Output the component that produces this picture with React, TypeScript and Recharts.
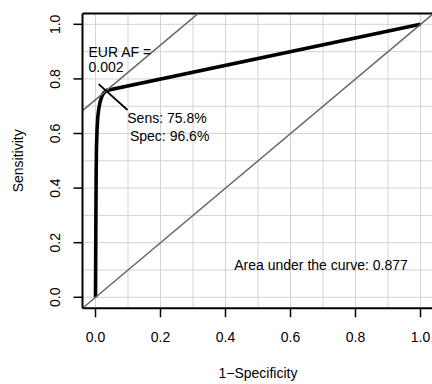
import React from 'react';
import { LineChart, Line, XAxis, YAxis, ReferenceLine, ReferenceDot } from 'recharts';

// ROC curve (1 - specificity vs sensitivity)
const fpr = [0, 0.001, 0.002, 0.003, 0.005, 0.007, 0.010, 0.014, 0.019, 0.025, 0.034, 1.0];
const tpr = [0, 0.25, 0.45, 0.55, 0.62, 0.66, 0.69, 0.715, 0.735, 0.748, 0.758, 1.0];

const axisTicks = [0, 0.2, 0.4, 0.6, 0.8, 1.0];
const gridValues = [0, 0.1, 0.2, 0.3, 0.4, 0.5, 0.6, 0.7, 0.8, 0.9, 1.0];
const domainLimits: [number, number] = [-0.04, 1.04];

const cutoffSens = 0.758;
const cutoffSpec = 0.966;
const cutoffLabelLines = ['EUR AF =', '0.002'];
const aucValue = 0.877;

const FONT = "'Liberation Sans', Arial, Helvetica, sans-serif";
const GRID = '#d3d3d3';

const rocData = fpr.map((x, i) => ({ x, y: tpr[i] }));
const diagData = [
  { x: domainLimits[0], y: domainLimits[0] },
  { x: domainLimits[1], y: domainLimits[1] },
];
const youdenOffset = cutoffSens - (1 - cutoffSpec);
const youdenData = [
  { x: domainLimits[0], y: domainLimits[0] + youdenOffset },
  { x: domainLimits[1] - youdenOffset, y: domainLimits[1] },
];

const makeText = (text: string) => (props: any) => (
  <text
    x={props.cx}
    y={props.cy}
    textAnchor="start"
    fontFamily={FONT}
    fontSize={14}
    fill="#000"
  >
    {text}
  </text>
);

const YTick = (props: any) => {
  const { x, y, payload } = props;
  const cx = x;
  return (
    <text
      x={cx}
      y={y}
      transform={`rotate(-90, ${cx}, ${y})`}
      textAnchor="middle"
      dy="0.36em"
      fontFamily={FONT}
      fontSize={14}
      fill="#000"
    >
      {Number(payload.value).toFixed(1)}
    </text>
  );
};

const YTitle = (props: any) => {
  const vb = props.viewBox || {};
  const cx = 17.5;
  const cy = vb.y != null && vb.height != null ? vb.y + vb.height / 2 : 160.8;
  return (
    <text
      x={cx}
      y={cy}
      transform={`rotate(-90, ${cx}, ${cy})`}
      textAnchor="middle"
      dy="0.36em"
      fontFamily={FONT}
      fontSize={14}
      fill="#000"
    >
      Sensitivity
    </text>
  );
};

export default function App() {
  const v = gridValues;
  return (
    <div style={{ position: 'absolute', left: 0, top: 0, width: 432, height: 384, overflow: 'hidden', background: '#fff' }}>
      <LineChart
        width={434}
        height={384}
        margin={{ top: 13.4, right: 0.5, bottom: 0, left: 0 }}
      >
        <XAxis
          type="number"
          dataKey="x"
          domain={domainLimits}
          ticks={axisTicks}
          allowDataOverflow
          height={75.8}
          tickSize={9}
          tickMargin={14.6}
          tickFormatter={(t: number) => t.toFixed(1)}
          axisLine={{ stroke: '#000', strokeWidth: 2 }}
          tickLine={{ stroke: '#000', strokeWidth: 1.5 }}
          tick={{ fill: '#000', fontSize: 14, fontFamily: FONT }}
          label={{ value: '1\u2212Specificity', position: 'insideBottom', offset: 5.7, fill: '#000', fontSize: 14, fontFamily: FONT }}
        />
        <YAxis
          type="number"
          dataKey="y"
          domain={domainLimits}
          ticks={axisTicks}
          allowDataOverflow
          width={82.5}
          tickSize={9}
          tickMargin={18.5}
          axisLine={{ stroke: '#000', strokeWidth: 2 }}
          tickLine={{ stroke: '#000', strokeWidth: 1.5 }}
          tick={<YTick />}
          label={<YTitle />}
        />
        <ReferenceLine x={v[0]} stroke={GRID} strokeWidth={1} />
        <ReferenceLine x={v[1]} stroke={GRID} strokeWidth={1} />
        <ReferenceLine x={v[2]} stroke={GRID} strokeWidth={1} />
        <ReferenceLine x={v[3]} stroke={GRID} strokeWidth={1} />
        <ReferenceLine x={v[4]} stroke={GRID} strokeWidth={1} />
        <ReferenceLine x={v[5]} stroke={GRID} strokeWidth={1} />
        <ReferenceLine x={v[6]} stroke={GRID} strokeWidth={1} />
        <ReferenceLine x={v[7]} stroke={GRID} strokeWidth={1} />
        <ReferenceLine x={v[8]} stroke={GRID} strokeWidth={1} />
        <ReferenceLine x={v[9]} stroke={GRID} strokeWidth={1} />
        <ReferenceLine x={v[10]} stroke={GRID} strokeWidth={1} />
        <ReferenceLine y={v[0]} stroke={GRID} strokeWidth={1} />
        <ReferenceLine y={v[1]} stroke={GRID} strokeWidth={1} />
        <ReferenceLine y={v[2]} stroke={GRID} strokeWidth={1} />
        <ReferenceLine y={v[3]} stroke={GRID} strokeWidth={1} />
        <ReferenceLine y={v[4]} stroke={GRID} strokeWidth={1} />
        <ReferenceLine y={v[5]} stroke={GRID} strokeWidth={1} />
        <ReferenceLine y={v[6]} stroke={GRID} strokeWidth={1} />
        <ReferenceLine y={v[7]} stroke={GRID} strokeWidth={1} />
        <ReferenceLine y={v[8]} stroke={GRID} strokeWidth={1} />
        <ReferenceLine y={v[9]} stroke={GRID} strokeWidth={1} />
        <ReferenceLine y={v[10]} stroke={GRID} strokeWidth={1} />
        <ReferenceLine y={domainLimits[1]} stroke="#000" strokeWidth={2} />
        <ReferenceLine x={domainLimits[1]} stroke="#000" strokeWidth={2} />
        <Line
          data={rocData}
          dataKey="y"
          type="linear"
          stroke="#000"
          strokeWidth={3.6}
          dot={false}
          isAnimationActive={false}
        />
        <Line
          data={diagData}
          dataKey="y"
          type="linear"
          stroke="#666"
          strokeWidth={1.5}
          dot={false}
          isAnimationActive={false}
        />
        <Line
          data={youdenData}
          dataKey="y"
          type="linear"
          stroke="#666"
          strokeWidth={1.5}
          dot={false}
          isAnimationActive={false}
        />
        <ReferenceLine
          segment={[
            { x: 0.0098, y: 0.781 },
            { x: 0.0985, y: 0.686 },
          ]}
          stroke="#000"
          strokeWidth={1.8}
        />
        <ReferenceDot x={-0.0215} y={0.880} r={1} shape={makeText(cutoffLabelLines[0])} />
        <ReferenceDot x={-0.0215} y={0.826} r={1} shape={makeText(cutoffLabelLines[1])} />
        <ReferenceDot x={0.0978} y={0.637} r={1} shape={makeText(`Sens: ${(cutoffSens * 100).toFixed(1)}%`)} />
        <ReferenceDot x={0.106} y={0.571} r={1} shape={makeText(`Spec: ${(cutoffSpec * 100).toFixed(1)}%`)} />
        <ReferenceDot x={0.427} y={0.100} r={1} shape={makeText(`Area under the curve: ${aucValue.toFixed(3)}`)} />
      </LineChart>
    </div>
  );
}
